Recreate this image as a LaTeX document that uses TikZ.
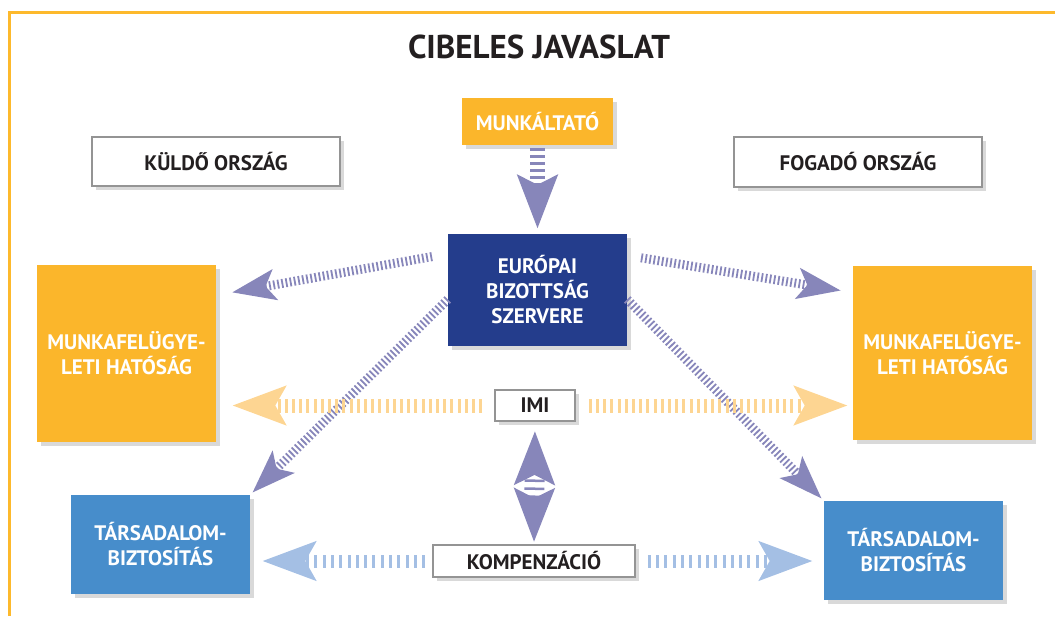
\documentclass[tikz,border=0pt]{standalone}
\usepackage{fontspec}
\setmainfont{PT Sans}
\usetikzlibrary{calc,arrows.meta,shadows}

\definecolor{boxorange}{HTML}{FBB62B}
\definecolor{darkblue}{HTML}{243D8C}
\definecolor{midblue}{HTML}{478DCB}
\definecolor{arrpurple}{HTML}{8786BA}
\definecolor{lightorange}{HTML}{FDD592}
\definecolor{lightblue}{HTML}{A4BFE4}
\definecolor{framecol}{HTML}{FDB92C}
\definecolor{boxgray}{HTML}{949494}
\definecolor{textdark}{HTML}{231F20}

\begin{document}
\begin{tikzpicture}[x=1pt, y=-1pt,
  every node/.style={font=\bfseries\fontsize{21}{25}\selectfont, align=center, inner sep=0pt},
  shade box/.style={drop shadow={shadow xshift=4pt, shadow yshift=-4pt, opacity=0.3}},
  colbox/.style={shade box, text=white, minimum width=179pt},
  graybox/.style={shade box, draw=boxgray, line width=1.6pt, fill=white, text=textdark},
  purplearr/.style={draw=arrpurple, line width=9pt, dash pattern=on 1.8pt off 2.4pt,
    -{Stealth[length=43pt, width=30pt, inset=9pt, fill=arrpurple]}},
  orangearr/.style={draw=lightorange, line width=14pt, dash pattern=on 3pt off 4.2pt,
    -{Stealth[length=53pt, width=38pt, inset=10pt, fill=lightorange]}},
  bluearr/.style={draw=lightblue, line width=13pt, dash pattern=on 3pt off 5.3pt,
    -{Stealth[length=53pt, width=38pt, inset=10pt, fill=lightblue]}}]
\useasboundingbox (0, 0) rectangle (1055, 616);
\draw [framecol, line width=3pt] (9, 616) -- (9, 12) -- (1055, 12);

\node [font=\bfseries\fontsize{33}{38}\selectfont, text=textdark] (title) at (539, 47) {CIBELES JAVASLAT};

\node [colbox, fill=boxorange, minimum width=151pt, minimum height=47pt] (munk) at (537.5, 121.5) {MUNKÁLTATÓ};
\node [graybox, minimum width=248pt, minimum height=49pt] (kuld) at (216, 161.5) {KÜLDŐ ORSZÁG};
\node [graybox, minimum width=248pt, minimum height=50pt] (fogad) at (858, 162) {FOGADÓ ORSZÁG};

\node [colbox, fill=darkblue, minimum height=112pt] (ekb) at (537.5, 290) {EURÓPAI\\BIZOTTSÁG\\SZERVERE};

\node [colbox, fill=boxorange, minimum height=177pt] (mfL) at (126.5, 353.5) {MUNKAFELÜGYE-\\LETI HATÓSÁG};
\node [colbox, fill=boxorange, minimum height=174pt] (mfR) at (942.5, 353) {MUNKAFELÜGYE-\\LETI HATÓSÁG};

\node [colbox, fill=midblue, minimum height=99pt] (tbL) at (160.5, 544.5) {TÁRSADALOM-\\BIZTOSÍTÁS};
\node [colbox, fill=midblue, minimum height=99pt] (tbR) at (913.5, 550.5) {TÁRSADALOM-\\BIZTOSÍTÁS};

\node [graybox, minimum width=80pt, minimum height=31pt] (imi) at (535, 405.5) {IMI};
\node [graybox, minimum width=202pt, minimum height=32pt] (komp) at (534, 561) {KOMPENZÁCIÓ};

\draw [draw=arrpurple, line width=15pt, dash pattern=on 2.5pt off 4.5pt, shorten <=3pt, shorten >=5pt,
  -{Stealth[length=53pt, width=39pt, inset=9pt, fill=arrpurple]}] (munk) -- (ekb);

\draw [purplearr, shorten <=16pt, shorten >=16pt] (ekb.158.6) -- (mfL.33.3);
\draw [purplearr, shorten <=14pt, shorten >=12pt] (ekb.21.6) -- (mfR.146.7);
\draw [purplearr, shorten >=3pt] (ekb.186.4) -- (tbL.north east);
\draw [purplearr, shorten >=3pt] (ekb.-6.4) -- (tbR.north west);

\draw [orangearr, shorten <=12pt, shorten >=16pt] (imi.west) -- (imi.west -| mfL.east);
\draw [orangearr, shorten <=13pt, shorten >=5pt] (imi.east) -- (imi.east -| mfR.west);

\draw [bluearr, shorten <=7pt, shorten >=12pt] (komp.west) -- (komp.west -| tbL.east);
\draw [bluearr, shorten <=12pt, shorten >=11pt] (komp.east) -- (komp.east -| tbR.west);

\draw [draw=arrpurple, line width=20pt, dash pattern=on 2.5pt off 5.5pt, shorten <=9pt, shorten >=2pt,
  {Stealth[length=53pt, width=39pt, inset=9pt, fill=arrpurple]}-{Stealth[length=53pt, width=39pt, inset=9pt, fill=arrpurple]}]
  (imi.south) -- (komp.north);
\end{tikzpicture}
\end{document}
